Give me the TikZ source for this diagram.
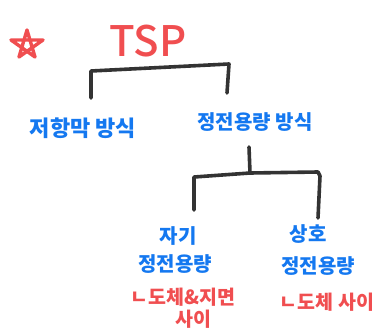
\documentclass[tikz,border=0pt]{standalone}
\usepackage{fontspec}
\newfontfamily\kr{Noto Sans CJK KR Black}
\newfontfamily\krm{Noto Sans CJK KR Medium}
\definecolor{tred}{HTML}{F04E50}
\definecolor{tblue}{HTML}{1478F0}
\definecolor{tline}{HTML}{333333}
\begin{document}
\begin{tikzpicture}[x=1pt,y=-1pt,
  blue/.style={font=\kr\fontsize{20}{21}\selectfont,text=tblue,inner sep=0pt},
  redt/.style={font=\kr\fontsize{19.5}{20}\selectfont,text=tred,inner sep=0pt},
  br/.style={draw=tline,line width=3.6pt,line cap=round,line join=round}]
\useasboundingbox (0,0) rectangle (382,334);
% star
\draw[tred,line width=3.4pt,line cap=round,line join=round]
  (27,30) -- (35,57) -- (11,40) -- (43,40) -- (19,57) -- cycle;
\node[font=\krm\fontsize{42}{42}\selectfont,text=tred,inner sep=0pt] (tsp) at (148,41) {TSP};
\node[blue,font=\kr\fontsize{22}{23}\selectfont] (res) at (83,128) {저항막 방식};
\node[blue] (cap) at (255,122) {정전용량 방식};
\node[blue] (self1) at (178,236) {자기};
\node[blue] (self2) at (175,264) {정전용량};
\node[redt] (self3) at (183,297) {ㄴ도체\&지면};
\node[redt] (self4) at (193,319) {사이};
\node[blue] (mut1) at (308,234) {상호};
\node[blue] (mut2) at (318,266) {정전용량};
\node[redt] (mut3) at (327,302) {ㄴ도체 사이};
% first bracket
\coordinate (b1l) at (91,98);
\coordinate (b1r) at (227,93);
\draw[br] (b1l) -- (91,71) -- (229,64) -- (b1r);
% second bracket
\coordinate (b2t) at (249,147);
\coordinate (b2l) at (194,210);
\coordinate (b2r) at (318,218);
\draw[br] (b2t) -- (250,173);
\draw[br] (b2l) -- (194,177) -- (250,173) -- (318,172) -- (320,176) -- (b2r);
\end{tikzpicture}
\end{document}
